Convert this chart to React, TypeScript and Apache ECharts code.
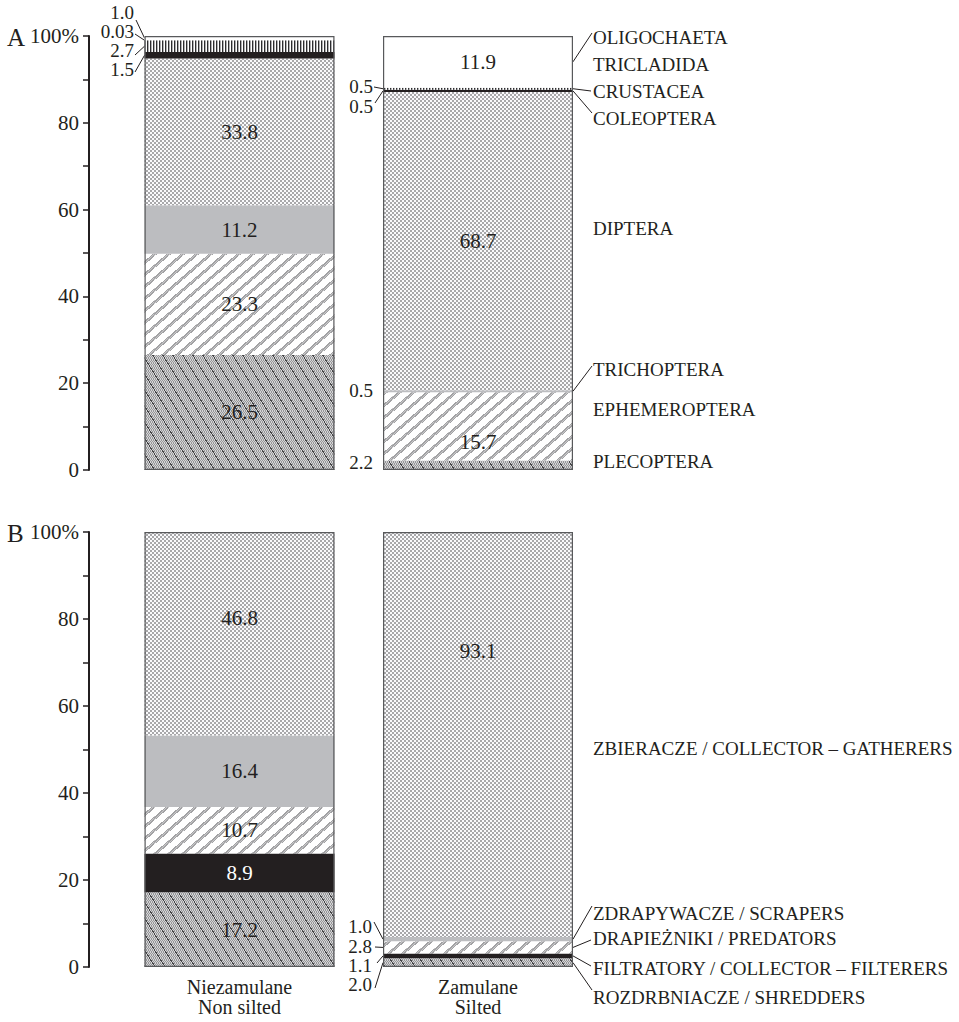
import React, { useEffect, useRef } from "react";
import * as echarts from "echarts";

// ---------- data ----------
const CATEGORIES = ["Niezamulane\nNon silted", "Zamulane\nSilted"];
const Y_MIN = 0;
const Y_MAX = 100;
const Y_INTERVAL = 20;

// Panel A – taxonomic groups (bottom → top), [non silted, silted]
const PLECOPTERA = [26.5, 2.2];
const EPHEMEROPTERA = [23.3, 15.7];
const TRICHOPTERA = [11.2, 0.5];
const DIPTERA = [33.8, 68.7];
const COLEOPTERA = [1.5, 0.5];
const CRUSTACEA = [2.7, 0.5];
const TRICLADIDA = [0.03, 0];
const OLIGOCHAETA = [1.0, 11.9];

// Panel B – functional feeding groups (bottom → top)
const SHREDDERS = [17.2, 2.0];
const FILTERERS = [8.9, 1.1];
const PREDATORS = [10.7, 2.8];
const SCRAPERS = [16.4, 1.0];
const GATHERERS = [46.8, 93.1];

const SERIES_A = [
  { name: "PLECOPTERA", data: PLECOPTERA, fill: "hatch" },
  { name: "EPHEMEROPTERA", data: EPHEMEROPTERA, fill: "stripe" },
  { name: "TRICHOPTERA", data: TRICHOPTERA, fill: "gray" },
  { name: "DIPTERA", data: DIPTERA, fill: "cross" },
  { name: "COLEOPTERA", data: COLEOPTERA, fill: "black" },
  { name: "CRUSTACEA", data: CRUSTACEA, fill: "vlines" },
  { name: "TRICLADIDA", data: TRICLADIDA, fill: "tric" },
  { name: "OLIGOCHAETA", data: OLIGOCHAETA, fill: "white" },
];
const SERIES_B = [
  { name: "ROZDRBNIACZE / SHREDDERS", data: SHREDDERS, fill: "hatch" },
  { name: "FILTRATORY / COLLECTOR – FILTERERS", data: FILTERERS, fill: "black" },
  { name: "DRAPIEŻNIKI / PREDATORS", data: PREDATORS, fill: "stripe" },
  { name: "ZDRAPYWACZE / SCRAPERS", data: SCRAPERS, fill: "gray" },
  { name: "ZBIERACZE / COLLECTOR – GATHERERS", data: GATHERERS, fill: "cross" },
];
const PANELS = [
  { letter: "A", series: SERIES_A },
  { letter: "B", series: SERIES_B },
];
const INSIDE_MIN = 5; // values at least this large are written inside the bar

// ---------- layout ----------
const W = 959;
const H = 1022;
const FONT = '"Liberation Serif", "Times New Roman", serif';
const INK = "#231f20";
const NUM_SIZE = 21;
const CAT_SIZE = 20;
const NOTE_SIZE = 19;
const NAME_SIZE = 19;
const BAR_W = 190;
const GRID_LEFT = 120.25;
const GRID_W = 477;
const AXIS_X = 89;
const GRIDS = [
  { top: 36, height: 434 },
  { top: 532, height: 435 },
];
const LETTER_POS = [
  { x: 7, y: 37 },
  { x: 7, y: 533 },
];
// per-label vertical nudges for inside labels: key = panel|series|cat
const INSIDE_OFFSET: Record<string, number> = {
  "0|EPHEMEROPTERA|1": 16,
  "1|ZBIERACZE / COLLECTOR – GATHERERS|0": -16,
  "1|ZBIERACZE / COLLECTOR – GATHERERS|1": -83,
};
// small value labels set beside a bar (left side), with optional leader start
const VALUE_NOTES = [
  { panel: 0, name: "OLIGOCHAETA", cat: 0, tx: 134, ty: 12, lx: 136, ly: 20 },
  { panel: 0, name: "TRICLADIDA", cat: 0, tx: 134, ty: 31, lx: 135, ly: 34 },
  { panel: 0, name: "CRUSTACEA", cat: 0, tx: 134, ty: 50, lx: 135, ly: 55 },
  { panel: 0, name: "COLEOPTERA", cat: 0, tx: 134, ty: 69, lx: 135, ly: 72 },
  { panel: 0, name: "CRUSTACEA", cat: 1, tx: 373, ty: 86, lx: 374, ly: 87 },
  { panel: 0, name: "COLEOPTERA", cat: 1, tx: 373, ty: 106, lx: 375, ly: 103 },
  { panel: 0, name: "TRICHOPTERA", cat: 1, tx: 373, ty: 390 },
  { panel: 0, name: "PLECOPTERA", cat: 1, tx: 373, ty: 462 },
  { panel: 1, name: "ZDRAPYWACZE / SCRAPERS", cat: 1, tx: 372, ty: 926, lx: 374, ly: 922 },
  { panel: 1, name: "DRAPIEŻNIKI / PREDATORS", cat: 1, tx: 372, ty: 946, lx: 375, ly: 947 },
  { panel: 1, name: "FILTRATORY / COLLECTOR – FILTERERS", cat: 1, tx: 372, ty: 965, lx: 377, ly: 963 },
  { panel: 1, name: "ROZDRBNIACZE / SHREDDERS", cat: 1, tx: 372, ty: 984, lx: 375, ly: 988 },
];
// group names to the right of the silted bar, with optional leader end
const NAME_NOTES = [
  { panel: 0, name: "OLIGOCHAETA", ty: 37, lx: 592, ly: 33 },
  { panel: 0, name: "TRICLADIDA", ty: 64 },
  { panel: 0, name: "CRUSTACEA", ty: 91, lx: 591, ly: 91 },
  { panel: 0, name: "COLEOPTERA", ty: 118, lx: 592, ly: 113 },
  { panel: 0, name: "DIPTERA", ty: 228 },
  { panel: 0, name: "TRICHOPTERA", ty: 369, lx: 592, ly: 366 },
  { panel: 0, name: "EPHEMEROPTERA", ty: 409 },
  { panel: 0, name: "PLECOPTERA", ty: 461 },
  { panel: 1, name: "ZBIERACZE / COLLECTOR – GATHERERS", ty: 748 },
  { panel: 1, name: "ZDRAPYWACZE / SCRAPERS", ty: 913, lx: 592, ly: 906 },
  { panel: 1, name: "DRAPIEŻNIKI / PREDATORS", ty: 938, lx: 591, ly: 940 },
  { panel: 1, name: "FILTRATORY / COLLECTOR – FILTERERS", ty: 968, lx: 591, ly: 966 },
  { panel: 1, name: "ROZDRBNIACZE / SHREDDERS", ty: 997, lx: 592, ly: 990 },
];
const NAME_X = 593;

// ---------- patterns ----------
function tile(w: number, h: number, fn: (x: number, y: number) => number) {
  const c = document.createElement("canvas");
  c.width = w;
  c.height = h;
  const ctx = c.getContext("2d")!;
  const img = ctx.createImageData(w, h);
  for (let y = 0; y < h; y++) {
    for (let x = 0; x < w; x++) {
      const v = fn(x, y);
      const i = (y * w + x) * 4;
      img.data[i] = v;
      img.data[i + 1] = v;
      img.data[i + 2] = Math.min(255, v + 2);
      img.data[i + 3] = 255;
    }
  }
  ctx.putImageData(img, 0, 0);
  return c;
}

function makeFills(): Record<string, any> {
  const pat = (c: HTMLCanvasElement) => ({
    image: c,
    repeat: "repeat",
    imageWidth: c.width,
    imageHeight: c.height,
  });
  const hatch = tile(10, 16, (x, y) => {
    const u = (((x - (y * 10) / 16) % 10) + 10) % 10;
    if (u < 1.2) return 70;
    return Math.floor(u) % 2 === 0 ? 150 : 212;
  });
  const stripe = tile(14, 12, (x, y) => {
    const u = (((x + (y * 14) / 12) % 14) + 14) % 14;
    if (u < 4.5) return (x + y) % 3 === 0 ? 200 : 162;
    return 255;
  });
  const cross = tile(4, 4, (x, y) => {
    const bx = Math.floor(x / 2);
    const by = Math.floor(y / 2);
    return (bx + by) % 2 === 0 ? 168 : 250;
  });
  const vlines = tile(3, 3, (x) => (x === 0 ? 45 : x === 1 ? 175 : 255));
  return {
    hatch: pat(hatch),
    stripe: pat(stripe),
    cross: pat(cross),
    vlines: pat(vlines),
    gray: "#bcbdc0",
    black: INK,
    tric: "#9a9a9a",
    white: "#ffffff",
  };
}

function fmt(v: number) {
  return v < 0.1 ? v.toFixed(2) : v.toFixed(1);
}

function segMid(series: { name: string; data: number[] }[], name: string, cat: number) {
  let base = 0;
  for (const s of series) {
    if (s.name === name) return base + s.data[cat] / 2;
    base += s.data[cat];
  }
  return base;
}

export default function App() {
  const ref = useRef<HTMLDivElement>(null);

  useEffect(() => {
    if (!ref.current) return;
    const chart = echarts.init(ref.current, undefined, { renderer: "svg" });
    const fills = makeFills();

    const grid = GRIDS.map((g) => ({
      left: GRID_LEFT,
      width: GRID_W,
      top: g.top,
      height: g.height,
      containLabel: false,
    }));

    const xAxis = PANELS.map((_, i) => ({
      type: "category",
      gridIndex: i,
      data: CATEGORIES,
      show: i === 1,
      axisLine: { show: false },
      axisTick: { show: false },
      splitLine: { show: false },
      axisLabel: {
        show: i === 1,
        fontFamily: FONT,
        fontSize: CAT_SIZE,
        lineHeight: 20,
        color: INK,
        margin: 10,
      },
    }));

    const yAxis = PANELS.map((_, i) => ({
      type: "value",
      gridIndex: i,
      min: Y_MIN,
      max: Y_MAX,
      interval: Y_INTERVAL,
      position: "left",
      offset: GRID_LEFT - AXIS_X,
      axisLine: { show: true, lineStyle: { color: INK, width: 2 } },
      axisTick: { show: true, length: 6, lineStyle: { color: INK, width: 1.5 } },
      minorTick: { show: true, splitNumber: 2, length: 6, lineStyle: { color: INK, width: 1.5 } },
      splitLine: { show: false },
      minorSplitLine: { show: false },
      axisLabel: {
        fontFamily: FONT,
        fontSize: NUM_SIZE,
        color: INK,
        margin: 10,
        formatter: (v: number) => (v === Y_MAX ? `${v}%` : `${v}`),
      },
    }));

    const series: any[] = [];
    PANELS.forEach((p, pi) => {
      p.series.forEach((s) => {
        series.push({
          type: "bar",
          name: s.name,
          xAxisIndex: pi,
          yAxisIndex: pi,
          stack: "stack" + pi,
          barWidth: BAR_W,
          barGap: "-100%",
          silent: true,
          itemStyle: { color: fills[s.fill], borderWidth: 0 },
          data: s.data.map((v, ci) => ({
            value: v,
            label: {
              show: v >= INSIDE_MIN,
              position: "inside",
              offset: [0, INSIDE_OFFSET[`${pi}|${s.name}|${ci}`] || 0],
              formatter: () => fmt(v),
              fontFamily: FONT,
              fontSize: NUM_SIZE,
              color: s.fill === "black" ? "#ffffff" : INK,
              textBorderWidth: 0,
            },
          })),
        });
      });
      // outline of each whole bar
      const totals = CATEGORIES.map((_, ci) =>
        Math.min(Y_MAX, p.series.reduce((a, s) => a + s.data[ci], 0))
      );
      series.push({
        type: "bar",
        name: "outline" + pi,
        xAxisIndex: pi,
        yAxisIndex: pi,
        barWidth: BAR_W,
        barGap: "-100%",
        silent: true,
        z: 5,
        itemStyle: { color: "rgba(0,0,0,0)", borderColor: "#58595b", borderWidth: 1.2 },
        label: { show: false },
        data: totals,
      });
    });

    chart.setOption({
      animation: false,
      backgroundColor: "#ffffff",
      grid,
      xAxis,
      yAxis,
      series,
    });

    // annotations placed from the library's own scales
    const graphics: any[] = [];
    const textEl = (
      text: string,
      x: number,
      y: number,
      align: string,
      size: number,
      lineHeight?: number
    ) => ({
      type: "text",
      silent: true,
      style: {
        text,
        x,
        y,
        fill: INK,
        font: `${size}px ${FONT}`,
        lineHeight: lineHeight ?? size,
        align,
        verticalAlign: "middle",
      },
    });
    const lineEl = (x1: number, y1: number, x2: number, y2: number) => ({
      type: "line",
      silent: true,
      shape: { x1, y1, x2, y2 },
      style: { stroke: INK, lineWidth: 1 },
    });

    PANELS.forEach((p, pi) => {
      graphics.push(textEl(p.letter, LETTER_POS[pi].x, LETTER_POS[pi].y, "left", 25));
    });

    VALUE_NOTES.forEach((n) => {
      const p = PANELS[n.panel];
      const s = p.series.find((q) => q.name === n.name)!;
      graphics.push(textEl(fmt(s.data[n.cat]), n.tx, n.ty, "right", NOTE_SIZE, 14));
      if (n.lx != null && n.ly != null) {
        const pt = chart.convertToPixel({ gridIndex: n.panel } as any, [
          n.cat,
          segMid(p.series, n.name, n.cat),
        ]) as number[];
        graphics.push(lineEl(n.lx, n.ly, pt[0] - BAR_W / 2, pt[1]));
      }
    });

    NAME_NOTES.forEach((n) => {
      const p = PANELS[n.panel];
      graphics.push(textEl(n.name, NAME_X, n.ty, "left", NAME_SIZE, 18));
      if (n.lx != null && n.ly != null) {
        const pt = chart.convertToPixel({ gridIndex: n.panel } as any, [
          1,
          segMid(p.series, n.name, 1),
        ]) as number[];
        graphics.push(lineEl(pt[0] + BAR_W / 2, pt[1], n.lx, n.ly));
      }
    });

    chart.setOption({ graphic: graphics });

    return () => chart.dispose();
  }, []);

  return (
    <div
      ref={ref}
      style={{ position: "fixed", left: 0, top: 0, width: W, height: H, background: "#fff" }}
    />
  );
}
